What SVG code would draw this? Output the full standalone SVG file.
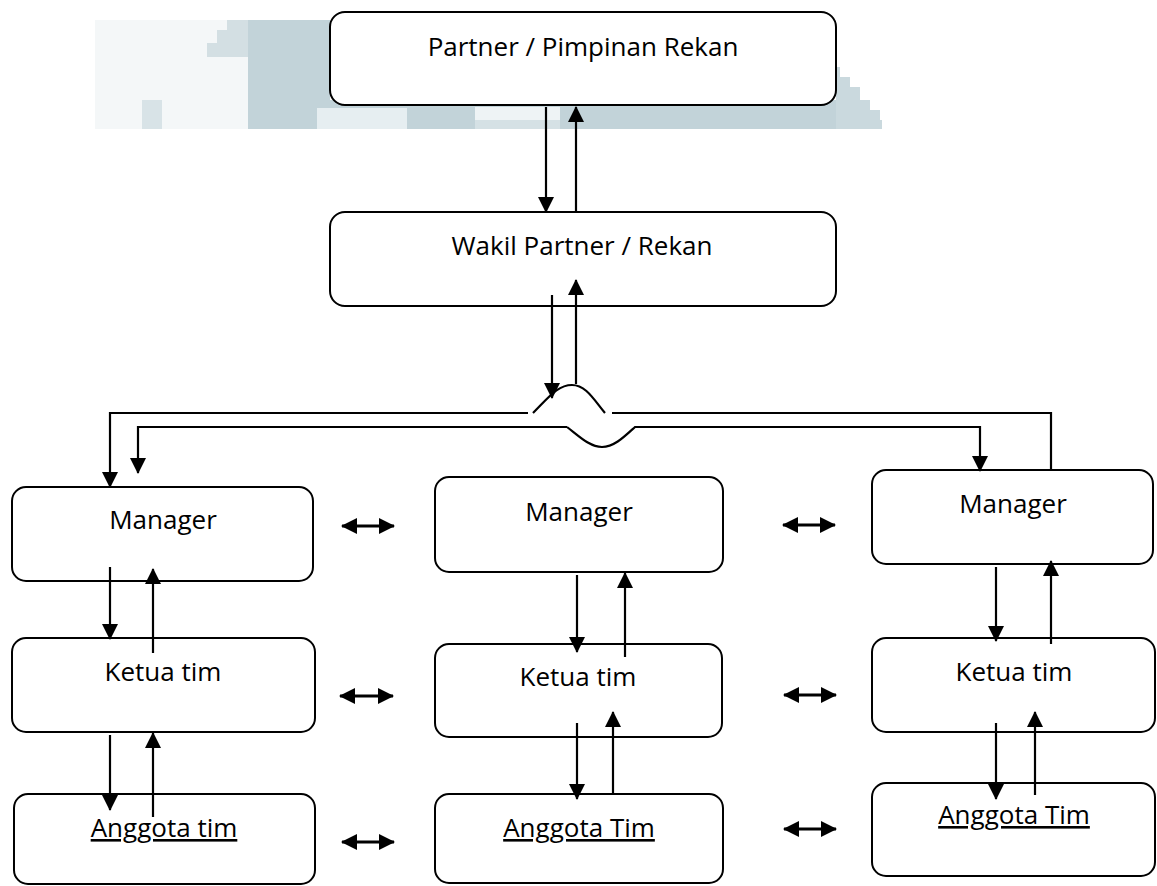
<svg xmlns="http://www.w3.org/2000/svg" width="1157" height="886" viewBox="0 0 1157 886">
<defs>
<style>
.box{fill:#fff;stroke:#000;stroke-width:2}
.lbl{font-family:"Open Sans","Liberation Sans",sans-serif;font-size:26px;fill:#000;text-anchor:middle}
.u{text-decoration:underline}
.ln{fill:none;stroke:#000;stroke-width:2.2}
.arr{fill:none;stroke:#000;stroke-width:2.2;marker-end:url(#ah)}
.dbl{fill:none;stroke:#000;stroke-width:3;marker-end:url(#ah)}
</style>
<marker id="ah" markerUnits="userSpaceOnUse" markerWidth="16" markerHeight="16" refX="15" refY="8" orient="auto-start-reverse" viewBox="0 0 16 16">
<path d="M0,0 L16,8 L0,16 z" fill="#000"/>
</marker>
</defs>
<rect width="1157" height="886" fill="#fff"/>
<g id="watermark">
<rect x="95" y="20" width="153" height="109" fill="#f4f7f8"/>
<rect x="142" y="100" width="20" height="29" fill="#d8e3e7"/>
<polygon points="227,20 248,20 248,57 207,57 207,43 217,43 217,30 227,30" fill="#d3dfe3"/>
<rect x="248" y="20" width="82" height="109" fill="#c2d3d9"/>
<rect x="330" y="100" width="540" height="29" fill="#c2d3d9"/>
<rect x="317" y="108" width="90" height="21" fill="#e6eef1"/>
<rect x="475" y="107" width="85" height="13" fill="#eef3f5"/>
<rect x="475" y="120" width="85" height="9" fill="#d5e1e5"/>
<polygon points="836,67 840,67 840,77 850,77 850,87 860,87 860,100 870,100 870,110 880,110 880,120 882,120 882,129 836,129" fill="#cad9de"/>
</g>
<g id="partner"><rect class="box" x="330" y="12" width="506" height="93" rx="15"/><text class="lbl" x="583" y="56">Partner / Pimpinan Rekan</text></g>
<g id="wakil"><rect class="box" x="330" y="212" width="506" height="94" rx="15"/><text class="lbl" x="582" y="255">Wakil Partner / Rekan</text></g>
<g id="manager1"><rect class="box" x="12" y="487" width="301" height="94" rx="14"/><text class="lbl" x="163" y="529">Manager</text></g>
<g id="manager2"><rect class="box" x="435" y="477" width="288" height="95" rx="14"/><text class="lbl" x="579" y="521">Manager</text></g>
<g id="manager3"><rect class="box" x="872" y="470" width="281" height="94" rx="14"/><text class="lbl" x="1013" y="513">Manager</text></g>
<g id="ketua1"><rect class="box" x="12" y="638" width="303" height="94" rx="14"/><text class="lbl" x="163" y="681">Ketua tim</text></g>
<g id="ketua2"><rect class="box" x="435" y="644" width="287" height="93" rx="14"/><text class="lbl" x="578" y="686">Ketua tim</text></g>
<g id="ketua3"><rect class="box" x="872" y="638" width="283" height="94" rx="14"/><text class="lbl" x="1014" y="681">Ketua tim</text></g>
<g id="anggota1"><rect class="box" x="14" y="794" width="301" height="90" rx="14"/><text class="lbl u" x="164" y="837">Anggota tim</text></g>
<g id="anggota2"><rect class="box" x="435" y="794" width="288" height="89" rx="14"/><text class="lbl u" x="579" y="837">Anggota Tim</text></g>
<g id="anggota3"><rect class="box" x="872" y="783" width="283" height="93" rx="14"/><text class="lbl u" x="1014" y="824">Anggota Tim</text></g>
<g id="connectors">
<line class="arr" x1="546" y1="107" x2="546" y2="212"/>
<line class="arr" x1="576" y1="212" x2="576" y2="107"/>
<line class="arr" x1="552" y1="295" x2="552" y2="398"/>
<line class="arr" x1="576" y1="384" x2="576" y2="280"/>
<path class="arr" d="M528,413 H110 V487"/>
<path class="ln" d="M612,413 H1051 V470"/>
<path class="ln" d="M533,413 C550,396 558,385 572,385 C586,385 594,400 605,413"/>
<path class="arr" d="M567,427 H138 V473"/>
<path class="arr" d="M567,427 C580,437 590,447 602,447 C614,447 624,437 635,427 H980 V471"/>
<line class="arr" x1="110" y1="567" x2="110" y2="639"/>
<line class="arr" x1="153" y1="653" x2="153" y2="569"/>
<line class="arr" x1="110" y1="735" x2="110" y2="810"/>
<line class="arr" x1="153" y1="817" x2="153" y2="733"/>
<line class="arr" x1="577" y1="575" x2="577" y2="652"/>
<line class="arr" x1="625" y1="657" x2="625" y2="573"/>
<line class="arr" x1="577" y1="723" x2="577" y2="799"/>
<line class="arr" x1="613" y1="794" x2="613" y2="712"/>
<line class="arr" x1="996" y1="567" x2="996" y2="641"/>
<line class="arr" x1="1051" y1="644" x2="1051" y2="561"/>
<line class="arr" x1="996" y1="723" x2="996" y2="799"/>
<line class="arr" x1="1035" y1="795" x2="1035" y2="712"/>
<line class="dbl" style="marker-start:url(#ah)" x1="342" y1="526" x2="394" y2="526"/>
<line class="dbl" style="marker-start:url(#ah)" x1="783" y1="525" x2="835" y2="525"/>
<line class="dbl" style="marker-start:url(#ah)" x1="340" y1="696" x2="393" y2="696"/>
<line class="dbl" style="marker-start:url(#ah)" x1="784" y1="695" x2="836" y2="695"/>
<line class="dbl" style="marker-start:url(#ah)" x1="342" y1="842" x2="394" y2="842"/>
<line class="dbl" style="marker-start:url(#ah)" x1="784" y1="829" x2="836" y2="829"/>
</g>
</svg>
